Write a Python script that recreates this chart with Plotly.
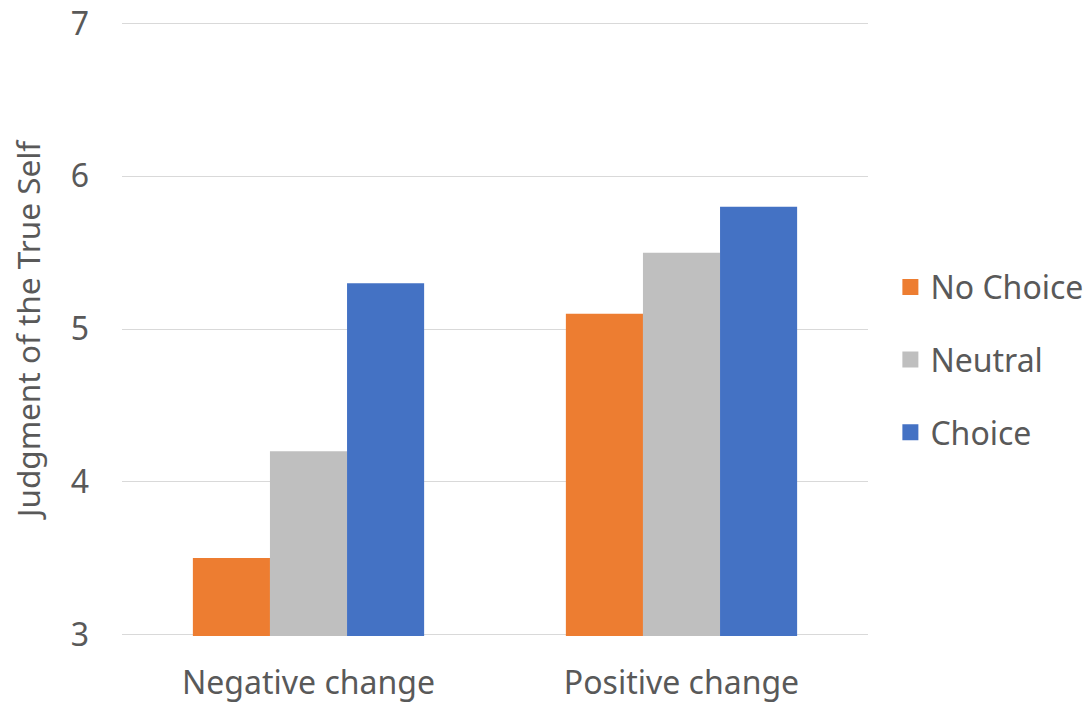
import plotly.graph_objects as go

categories = ["Negative change", "Positive change"]
series_names = ["No Choice", "Neutral", "Choice"]
no_choice = [3.5, 5.1]
neutral = [4.2, 5.5]
choice = [5.3, 5.8]
colors = ["#ED7D31", "#BFBFBF", "#4472C4"]
y_ticks = [3, 4, 5, 6, 7]

FONT = "Noto Sans"
TXT = "#595959"
FS = 32

fig = go.Figure()
for name, vals, col in zip(series_names, [no_choice, neutral, choice], colors):
    fig.add_trace(go.Bar(x=categories, y=vals, name=name, marker_color=col,
                         marker_line_width=0, showlegend=False))
for name, col in zip(series_names, colors):
    fig.add_trace(go.Scatter(x=[None], y=[None], mode="markers", name=name,
                             marker=dict(symbol="square", size=20, color=col),
                             legendgroup=name, showlegend=True))

fig.update_layout(
    width=1091, height=708,
    margin=dict(l=122, r=223, t=22, b=72, autoexpand=False),
    paper_bgcolor="white", plot_bgcolor="white",
    barmode="group", bargap=0.38, bargroupgap=0,
    font=dict(family=FONT, color=TXT, size=FS),
    legend=dict(x=1.03, y=0.45, yanchor="middle", xanchor="left",
                font=dict(size=FS, color=TXT), tracegroupgap=28,
                itemwidth=30, itemsizing="trace"),
    showlegend=True,
)
fig.update_xaxes(showgrid=False, showline=False, ticks="", automargin=False,
                 tickfont=dict(size=FS, color=TXT), ticklabelstandoff=25,
                 ticklabeloverflow="allow")
fig.update_yaxes(range=[2.99, 7.01], tickvals=y_ticks, showgrid=True, gridcolor="#D9D9D9",
                 gridwidth=1, zeroline=False, showline=False, ticks="", automargin=False,
                 tickfont=dict(size=FS, color=TXT), ticklabelstandoff=32,
                 ticklabeloverflow="allow",
                 title=dict(text="Judgment of the True Self", font=dict(size=31.5, color=TXT), standoff=20))

fig.write_html("out.html", config={"displayModeBar": False},
               post_script="document.body.style.margin='0';document.body.style.overflow='hidden';")
